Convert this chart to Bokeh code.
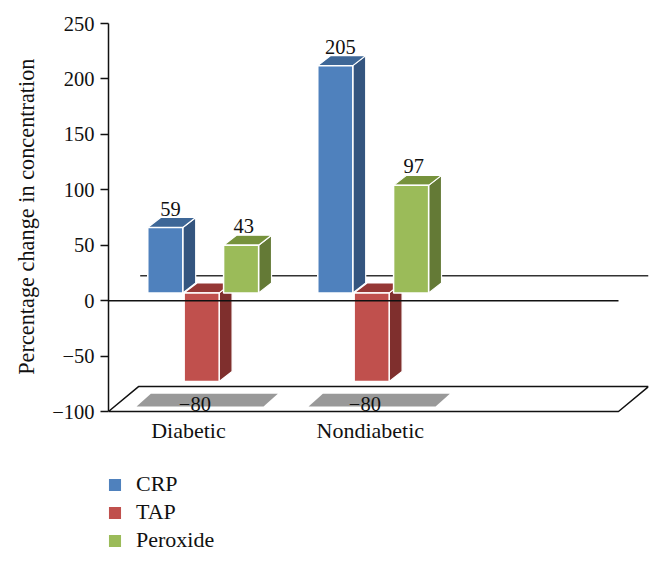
from bokeh.plotting import figure
from bokeh.models import (Range1d, FixedTicker, Legend, LegendItem, LinearAxis, ColumnDataSource, Title)
from bokeh.core.properties import value
from bokeh.embed import file_html
from bokeh.resources import INLINE

categories = ["Diabetic", "Nondiabetic"]
crp = [59, 205]
tap = [-80, -80]
peroxide = [43, 97]
y_ticks = [-100, -50, 0, 50, 100, 150, 200, 250]
y_tick_labels = ["−100", "−50", "0", "50", "100", "150", "200", "250"]
series_names = ["CRP", "TAP", "Peroxide"]
y_title = "Percentage change in concentration"

FONT = "Liberation Serif"
FS = "22px"
NUM = "20.5px"
TEXT = "#111111"
BASE = 7        # the bars' front plane stands this far above the axis scale
DX, DY = 0.076, 9   # depth of the 3-D extrusion (x units, value units)
W = 0.206       # bar width in category units
STARTS = [0.231, 0.445, 0.677]
LABEL_SHIFT = [0.03, -0.04, 0.015]
FRONT = ["#4F81BD", "#C0504D", "#9BBB59"]
SIDE = ["#34557F", "#7F2F2D", "#647A36"]
TOP = ["#3E6797", "#953735", "#76923C"]

# the frame runs on below the axis so that the legend has room inside it
PX_PER_UNIT = 388 / 350
FRAME_H = 531
p = figure(width=655, height=554, output_backend="svg", toolbar_location=None,
           x_range=Range1d(0, 540 / 170), y_range=Range1d(250 - FRAME_H / PX_PER_UNIT, 250),
           y_axis_location=None, x_axis_location=None,
           min_border_left=108, min_border_right=7, min_border_top=23, min_border_bottom=0)
p.grid.visible = False
p.outline_line_color = None
p.background_fill_color = None

# y axis
ya = LinearAxis(ticker=FixedTicker(ticks=y_ticks), bounds=(-100, 250),
                major_label_overrides={t: s for t, s in zip(y_ticks, y_tick_labels)},
                major_label_text_font=FONT, major_label_text_font_size=NUM, major_label_text_color=TEXT,
                major_label_standoff=6,
                major_tick_in=0, major_tick_out=8, minor_tick_line_color=None,
                axis_line_color="#111111", axis_line_width=1.5,
                major_tick_line_color="#111111", major_tick_line_width=1.5)
p.add_layout(ya, "left")

# axis title, placed along the bounded part of the axis
p.add_layout(Title(text=y_title, align="right", offset=35, standoff=21,
                   text_font=FONT, text_font_size="22.3px", text_font_style="normal", text_color=TEXT), "left")

n_cat = 3
FLOOR_BACK = -77.5
SKEW = 30 / 170
# floor
p.patch([0, SKEW, n_cat + SKEW, n_cat], [-100, FLOOR_BACK, FLOOR_BACK, -100],
        fill_color=None, line_color="#111111", line_width=1.5)
# back wall line
WALL = 22.5
p.line([SKEW + 0.01, n_cat + SKEW], [WALL, WALL], line_color="#333333", line_width=1.5)

# shadows
sx, sw, ss = 0.165, 0.747, 0.084
for i in range(len(categories)):
    x0 = i + sx + i * 0.012
    p.patch([x0, x0 + ss, x0 + ss + sw, x0 + sw], [-95.5, -84, -84, -95.5],
            fill_color="#999999", line_color=None)

# category labels
cat_src = ColumnDataSource(dict(x=[i + 0.47 + i * 0.07 for i in range(len(categories))],
                                y=[-100] * len(categories), text=categories))
p.text("x", "y", text="text", source=cat_src, text_font=value(FONT), text_font_size=value(FS),
       text_color=TEXT, text_align="center", text_baseline="middle", y_offset=19)

# bars
legend_items = []
for s, vals in enumerate([crp, tap, peroxide]):
    l = [i + STARTS[s] for i in range(len(categories))]
    r = [a + W for a in l]
    t = [v + BASE for v in vals]
    b = [BASE] * len(vals)
    # side faces
    p.patches([[ri, ri + DX, ri + DX, ri] for ri in r],
              [[bi, bi + DY, ti + DY, ti] if ti > bi else [ti, ti + DY, bi + DY, bi] for bi, ti in zip(b, t)],
              fill_color=SIDE[s], line_color="white", line_width=1.2)
    # top faces
    tops = [max(bi, ti) for bi, ti in zip(b, t)]
    p.patches([[li, li + DX, ri + DX, ri] for li, ri in zip(l, r)],
              [[ti, ti + DY, ti + DY, ti] for ti in tops],
              fill_color=TOP[s], line_color="white", line_width=1.2)
    q = p.quad(left=l, right=r, top=tops, bottom=[min(bi, ti) for bi, ti in zip(b, t)],
               fill_color=FRONT[s], line_color="white", line_width=1.5)
    legend_items.append(LegendItem(label=series_names[s], renderers=[q]))
    # data labels
    lab = ColumnDataSource(dict(
        x=[(li + ri) / 2 + LABEL_SHIFT[s] for li, ri in zip(l, r)],
        y=[tv + DY if v > 0 else -93 for tv, v in zip(t, vals)],
        text=[str(v).replace("-", "−") for v in vals]))
    p.text("x", "y", text="text", source=lab, text_font=value(FONT), text_font_size=value(NUM),
           text_color=TEXT, text_align="center", text_baseline="bottom" if s != 1 else "middle",
           y_offset=-2 if s != 1 else 0)

# zero line above the bars
p.line([0, n_cat], [0, 0], line_color="#111111", line_width=1.5)

legend = Legend(items=legend_items, location=(-2, 1), orientation="vertical",
                border_line_color=None, background_fill_color=None,
                glyph_width=17, glyph_height=17, spacing=2, margin=0, padding=0,
                label_standoff=13, label_height=14,
                label_text_font=FONT, label_text_font_size=FS, label_text_color=TEXT)
p.add_layout(legend, "center")

open("out.html", "w").write(file_html(p, INLINE))
